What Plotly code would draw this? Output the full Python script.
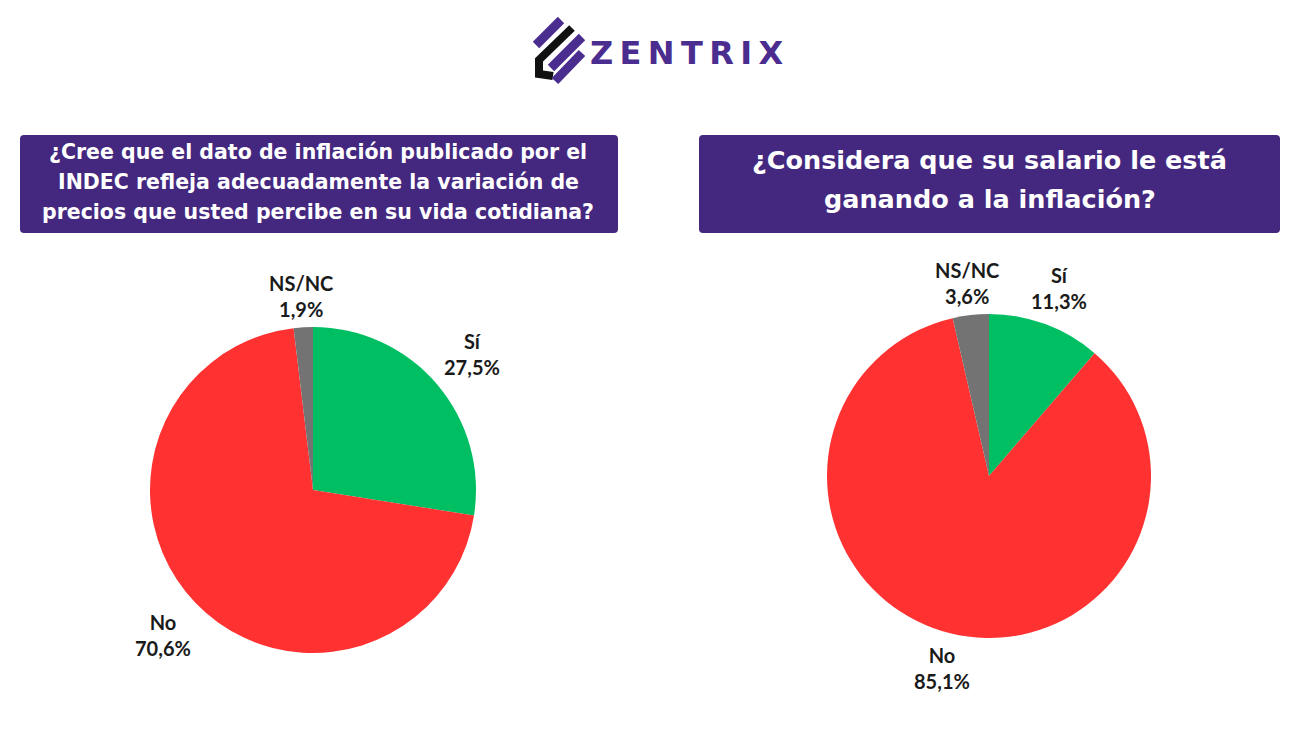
import numpy as np
import plotly.graph_objects as go

W, H = 1300, 731

# ---- data ----
labels = ["Sí", "No", "NS/NC"]
colors = ["#00BF63", "#FF3131", "#737373"]
values_q1 = [27.5, 70.6, 1.9]
values_q2 = [11.3, 85.1, 3.6]
title_q1 = ["¿Cree que el dato de inflación publicado por el",
            "INDEC refleja adecuadamente la variación de",
            "precios que usted percibe en su vida cotidiana?"]
title_q2 = ["¿Considera que su salario le está",
            "ganando a la inflación?"]
brand = "ZENTRIX"

PURPLE = "#44287F"
LOGO_PURPLE = "#4A2D8F"
LABEL_FONT = dict(family="Lato", size=20, color="#1a1a1a")


def px(x):
    return x / W


def py(y):
    return 1 - y / H


fig = go.Figure()
annotations = []


def add_pie(vals, cx, cy, r):
    fig.add_trace(go.Pie(
        labels=labels, values=vals, sort=False, direction="clockwise", rotation=0,
        marker=dict(colors=colors, line=dict(width=0)),
        textinfo="none",
        hoverinfo="label+value",
        showlegend=False,
        domain=dict(x=[px(cx - r), px(cx + r)], y=[py(cy + r), py(cy - r)]),
    ))
    # outside-end labels, placed from each slice's mid angle
    v = np.asarray(vals, dtype=float)
    frac = v / v.sum()
    mids = (np.cumsum(frac) - frac / 2) * 2 * np.pi
    hw, hh, gap = 33, 24, 5
    for lab, val, th in zip(labels, v, mids):
        s, c = np.sin(th), np.cos(th)
        d = r + gap + hw * abs(s) + hh * abs(c)
        lx, ly = cx + d * s, cy - d * c
        txt = f"<b>{lab}</b><br><b>{val:.1f}%</b>".replace(".", ",")
        annotations.append(dict(x=px(lx), y=py(ly), xref="paper", yref="paper",
                                text=txt, showarrow=False, font=LABEL_FONT,
                                xanchor="center", yanchor="middle", align="center"))


add_pie(values_q1, 313, 490, 163)
add_pie(values_q2, 989, 476, 162)

shapes = []


def rounded_rect(x0, y0, x1, y1, rad=4):
    X0, X1 = px(x0), px(x1)
    Y0, Y1 = py(y0), py(y1)
    rx, ry = rad / W, rad / H
    path = (f"M {X0+rx},{Y0} L {X1-rx},{Y0} Q {X1},{Y0} {X1},{Y0-ry} "
            f"L {X1},{Y1+ry} Q {X1},{Y1} {X1-rx},{Y1} L {X0+rx},{Y1} "
            f"Q {X0},{Y1} {X0},{Y1+ry} L {X0},{Y0-ry} Q {X0},{Y0} {X0+rx},{Y0} Z")
    return dict(type="path", xref="paper", yref="paper", path=path,
                fillcolor=PURPLE, line=dict(width=0), layer="below")


shapes.append(rounded_rect(20, 135, 618, 233))
shapes.append(rounded_rect(699, 135, 1280, 233))


def stroke(points, color, width):
    path = "M " + " L ".join(f"{px(x)},{py(y)}" for x, y in points)
    return dict(type="path", xref="paper", yref="paper", path=path,
                line=dict(color=color, width=width))


# logo icon
shapes.append(stroke([(561, 20), (536, 45)], LOGO_PURPLE, 9))
shapes.append(stroke([(572, 28), (539, 60), (539, 74), (553, 76)], "#111111", 8))
shapes.append(stroke([(582, 37), (551, 68)], LOGO_PURPLE, 9))
shapes.append(stroke([(582, 53), (555, 81)], LOGO_PURPLE, 9))

annotations.append(dict(x=px(687), y=py(53), xref="paper", yref="paper",
                        text="<b>" + "\u2009".join(brand) + "</b>", showarrow=False,
                        font=dict(family="DejaVu Sans", size=32, color=LOGO_PURPLE),
                        xanchor="center", yanchor="middle"))

for i, line in enumerate(title_q1):
    annotations.append(dict(x=px(318), y=py(152 + 30 * i), xref="paper", yref="paper",
                            text="<b>" + line + "</b>", showarrow=False,
                            font=dict(family="DejaVu Sans", size=20.5, color="white"),
                            xanchor="center", yanchor="middle"))
for i, line in enumerate(title_q2):
    annotations.append(dict(x=px(989.5), y=py(160 + 39 * i), xref="paper", yref="paper",
                            text="<b>" + line + "</b>", showarrow=False,
                            font=dict(family="DejaVu Sans", size=25.5, color="white"),
                            xanchor="center", yanchor="middle"))

fig.update_layout(
    width=W, height=H,
    margin=dict(l=0, r=0, t=0, b=0),
    paper_bgcolor="white", plot_bgcolor="white",
    separators=",.",
    shapes=shapes, annotations=annotations,
)

fig.write_html("out.html")
